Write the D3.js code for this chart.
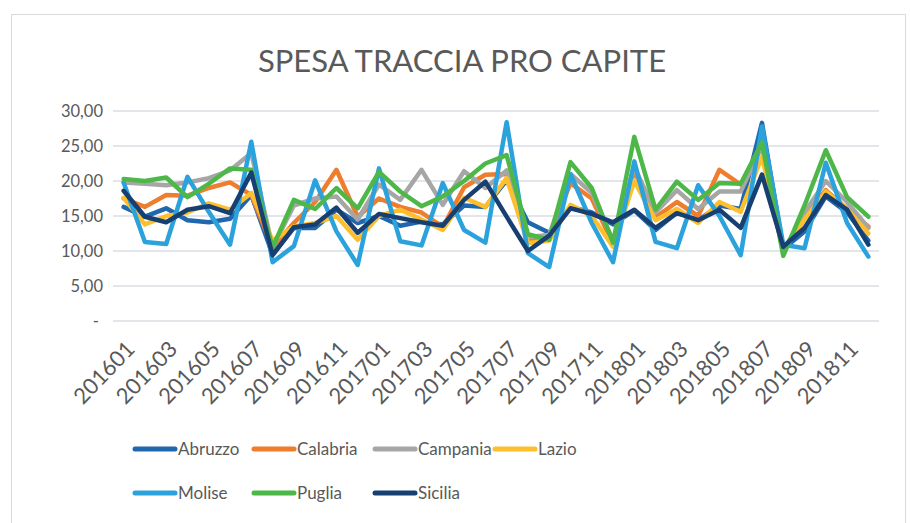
<!DOCTYPE html>
<html>
<head>
<meta charset="utf-8">
<script src="https://cdn.jsdelivr.net/npm/d3@7"></script>
<style>
  body { margin: 0; background: #fff; }
  svg { display: block; }
  .grid line { stroke: #d9dde2; stroke-width: 1.5; }
  .lbl { font-family: Lato, "Open Sans", sans-serif; fill: #595959; }
</style>
</head>
<body>
<svg id="chart" width="910" height="523"></svg>
<script>
// months 201601..201812
var months = [];
for (var yy = 2016; yy <= 2018; yy++) {
    for (var mm = 1; mm <= 12; mm++) {
        months.push(String(yy) + (mm < 10 ? "0" + mm : mm));
    }
}

var regions = ["Abruzzo", "Calabria", "Campania", "Lazio", "Molise", "Puglia", "Sicilia"];
var colors = ["#2167ae", "#ef7d2e", "#a6a6a6", "#fdbf2d", "#2ca2dc", "#4db848", "#173f72"];

var abruzzo  = [16.3, 14.9, 16.1, 14.4, 14.1, 14.6, 18.0, 9.5, 13.3, 13.3, 15.9, 14.0,
                15.0, 13.6, 14.2, 13.8, 16.5, 16.3, 20.1, 14.1, 12.6, 16.3, 15.5, 13.8,
                15.8, 13.0, 15.5, 14.4, 16.5, 16.0, 28.3, 10.3, 12.8, 17.8, 15.5, 11.5];
var calabria = [17.5, 16.3, 18.0, 17.9, 19.0, 19.8, 18.0, 10.5, 14.0, 17.0, 21.6, 14.9,
                17.5, 16.3, 15.5, 13.4, 19.1, 20.9, 21.0, 11.5, 12.0, 19.7, 17.5, 11.0,
                21.5, 14.8, 17.0, 15.0, 21.6, 19.5, 25.0, 10.0, 15.0, 18.7, 16.0, 13.5];
var campania = [19.8, 19.6, 19.4, 19.8, 20.4, 21.5, 24.0, 10.5, 16.5, 17.5, 17.8, 14.5,
                19.5, 17.3, 21.6, 16.6, 21.4, 19.0, 21.5, 12.0, 12.3, 21.0, 18.3, 11.5,
                22.0, 15.5, 18.7, 16.0, 18.5, 18.5, 25.0, 10.0, 15.5, 20.0, 17.0, 13.3];
var lazio    = [17.6, 13.8, 15.0, 15.5, 16.8, 15.9, 18.3, 11.5, 13.5, 14.0, 15.0, 11.6,
                15.0, 15.9, 14.5, 13.0, 17.6, 16.3, 20.4, 11.1, 11.5, 16.6, 15.0, 10.6,
                20.0, 14.4, 16.0, 14.0, 17.0, 15.6, 23.5, 10.0, 14.5, 18.5, 16.0, 12.5];
var molise   = [19.8, 11.3, 11.0, 20.6, 15.6, 10.9, 25.6, 8.4, 10.7, 20.1, 12.8, 8.0,
                21.8, 11.4, 10.8, 19.7, 13.0, 11.2, 28.4, 9.7, 7.7, 21.0, 14.0, 8.4,
                22.8, 11.3, 10.4, 19.4, 15.0, 9.4, 27.8, 10.9, 10.4, 22.6, 14.0, 9.2];
var puglia   = [20.3, 20.0, 20.5, 17.7, 19.6, 21.8, 21.6, 10.5, 17.3, 16.0, 19.0, 16.1,
                21.3, 18.5, 16.4, 17.8, 20.0, 22.5, 23.7, 12.4, 11.6, 22.7, 19.0, 11.2,
                26.3, 15.9, 19.9, 17.3, 19.7, 19.6, 25.5, 9.3, 16.5, 24.4, 17.7, 14.9];
var sicilia  = [18.6, 14.9, 14.1, 15.9, 16.4, 15.4, 21.2, 9.4, 13.4, 13.8, 16.2, 12.6,
                15.3, 14.7, 14.1, 13.6, 17.3, 19.9, 14.9, 10.0, 12.2, 16.1, 15.3, 14.1,
                15.9, 13.3, 15.4, 14.4, 15.9, 13.3, 20.9, 10.6, 13.3, 18.0, 15.9, 10.9];

var seriesValues = [abruzzo, calabria, campania, lazio, molise, puglia, sicilia];
var yTicks = [0, 5, 10, 15, 20, 25, 30];

var svg = d3.select("#chart");

// chart frame
svg.append("rect")
    .attr("x", 11.5).attr("y", 14.5)
    .attr("width", 894).attr("height", 520)
    .attr("fill", "#fff")
    .attr("stroke", "#d9d9d9");

svg.append("text")
    .attr("class", "lbl")
    .attr("x", 462).attr("y", 72)
    .attr("text-anchor", "middle")
    .attr("font-size", 31)
    .text("SPESA TRACCIA PRO CAPITE");

var x = d3.scaleBand().domain(months).range([113, 879]);
var y = d3.scaleLinear().domain([0, 30]).range([321, 111]);

// gridlines
svg.append("g")
    .attr("class", "grid")
    .selectAll("line")
    .data(yTicks)
    .enter()
    .append("line")
    .attr("x1", 113).attr("x2", 879)
    .attr("y1", function(d){ return y(d); })
    .attr("y2", function(d){ return y(d); });

// y axis labels
var fmt = function(d){ return d == 0 ? "-" : d3.format(".2f")(d).replace(".", ","); };
var yAxis = d3.axisLeft(y).tickValues(yTicks).tickSize(0).tickPadding(10).tickFormat(fmt);
var gy = svg.append("g")
    .attr("transform", "translate(113,0)")
    .call(yAxis);
gy.select(".domain").remove();
gy.selectAll("text")
    .attr("class", "lbl")
    .attr("font-size", 16.5)
    .attr("dx", function(d){ return d == 0 ? -4 : 0; });

// x axis labels, every other month
var xAxis = d3.axisBottom(x)
    .tickValues(months.filter(function(d, i){ return i % 2 == 0; }))
    .tickSize(0);
var gx = svg.append("g")
    .attr("transform", "translate(0,333)")
    .call(xAxis);
gx.select(".domain").remove();
gx.selectAll("text")
    .attr("class", "lbl")
    .attr("font-size", 22)
    .attr("text-anchor", "end")
    .attr("y", 0)
    .attr("dy", "0.35em")
    .attr("transform", "translate(7,12) rotate(-46)");

// lines
var line = d3.line()
    .x(function(d, i){ return x(months[i]) + x.bandwidth() / 2; })
    .y(function(d){ return y(d); });

for (var s = 0; s < regions.length; s++) {
    svg.append("path")
        .datum(seriesValues[s])
        .attr("fill", "none")
        .attr("stroke", colors[s])
        .attr("stroke-width", 4.5)
        .attr("stroke-linejoin", "round")
        .attr("stroke-linecap", "round")
        .attr("d", line);
}

// legend
var legX = [135, 254, 375, 495];
var legY = [449, 493];
for (var k = 0; k < regions.length; k++) {
    var lx = legX[k % 4], ly = legY[Math.floor(k / 4)];
    svg.append("line")
        .attr("x1", lx).attr("x2", lx + 40)
        .attr("y1", ly).attr("y2", ly)
        .attr("stroke", colors[k])
        .attr("stroke-width", 5)
        .attr("stroke-linecap", "round");
    svg.append("text")
        .attr("class", "lbl")
        .attr("x", lx + 43).attr("y", ly)
        .attr("dy", "0.35em")
        .attr("font-size", 17)
        .text(regions[k]);
}
</script>
</body>
</html>
